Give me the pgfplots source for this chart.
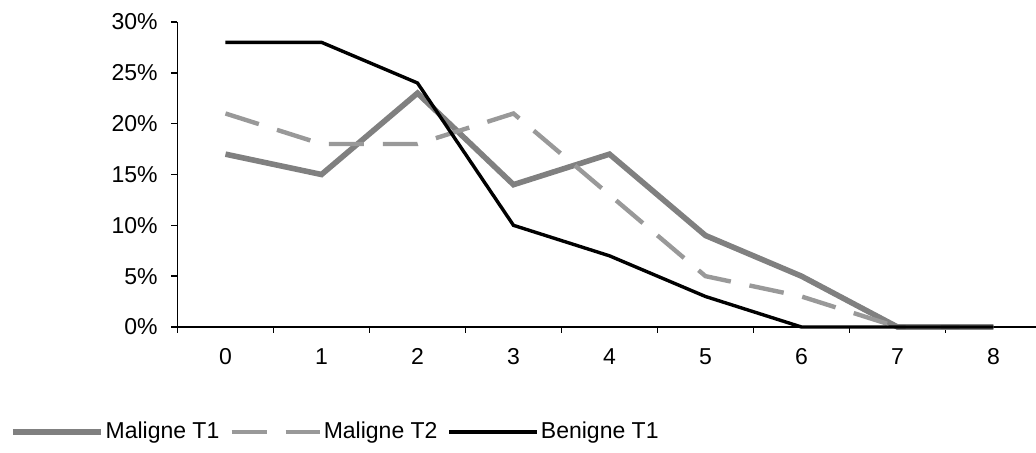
\documentclass[border=0pt]{standalone}
\usepackage{pgfplots}
\pgfplotsset{compat=1.18}
\usepackage{fontspec}
\setmainfont{Liberation Sans}
\definecolor{malT1}{HTML}{808080}
\definecolor{malT2}{HTML}{999999}
\begin{document}
\begin{tikzpicture}
    % 1 px of the reference = 0.5pt
    \begin{axis}[
        at={(0pt,0pt)}, anchor=south west,
        scale only axis, width=429.25pt, height=152.5pt,
        axis lines=left, axis line style={-, line width=0.8pt},
        xmin=-0.5, xmax=8.443, ymin=0, ymax=30,
        clip=false,
        tick align=outside, major tick length=3pt,
        tick style={black, line width=0.8pt},
        xtick={-0.5,0.5,...,7.5}, xticklabels={},
        extra x ticks={0,1,2,3,4,5,6,7,8},
        extra x tick labels={0,1,2,3,4,5,6,7,8},
        extra x tick style={major tick length=0pt,
            xticklabel style={anchor=center, yshift=-14.8pt}},
        ytick={0,5,10,15,20,25,30},
        yticklabels={0\%,5\%,10\%,15\%,20\%,25\%,30\%},
        yticklabel style={xshift=-3.4pt},
        tick label style={font=\fontsize{11.5}{13}\selectfont},
        legend image code/.code={\draw[#1] (0pt,0pt) -- (44pt,0pt);},
        legend style={draw=none, fill=none, inner sep=0pt, outer sep=0pt,
            at={(axis description cs:-0.1951,-0.344)}, anchor=west,
            legend columns=-1, font=\fontsize{11.5}{13}\selectfont,
            nodes={inner sep=1pt, anchor=west},
            /tikz/every even column/.append style={column sep=4pt}},
    ]
        \addplot[malT1, line width=2.8pt] coordinates {
            (0,17) (1,15) (2,23) (3,14) (4,17) (5,9) (6,5) (7,0) (8,0)
        };
        \addplot[malT2, line width=2.2pt, dash pattern=on 17.5pt off 9.5pt] coordinates {
            (0,21) (1,18) (2,18) (3,21) (4,13) (5,5) (6,3) (7,0) (8,0)
        };
        \addplot[black, line width=1.7pt] coordinates {
            (0,28) (1,28) (2,24) (3,10) (4,7) (5,3) (6,0) (7,0) (8,0)
        };
        \legend{Maligne T1, Maligne T2, Benigne T1}
    \end{axis}
    \pgfresetboundingbox
    \path[use as bounding box] (-88.75pt,-63pt) rectangle (429.25pt,163.5pt);
\end{tikzpicture}
\end{document}
